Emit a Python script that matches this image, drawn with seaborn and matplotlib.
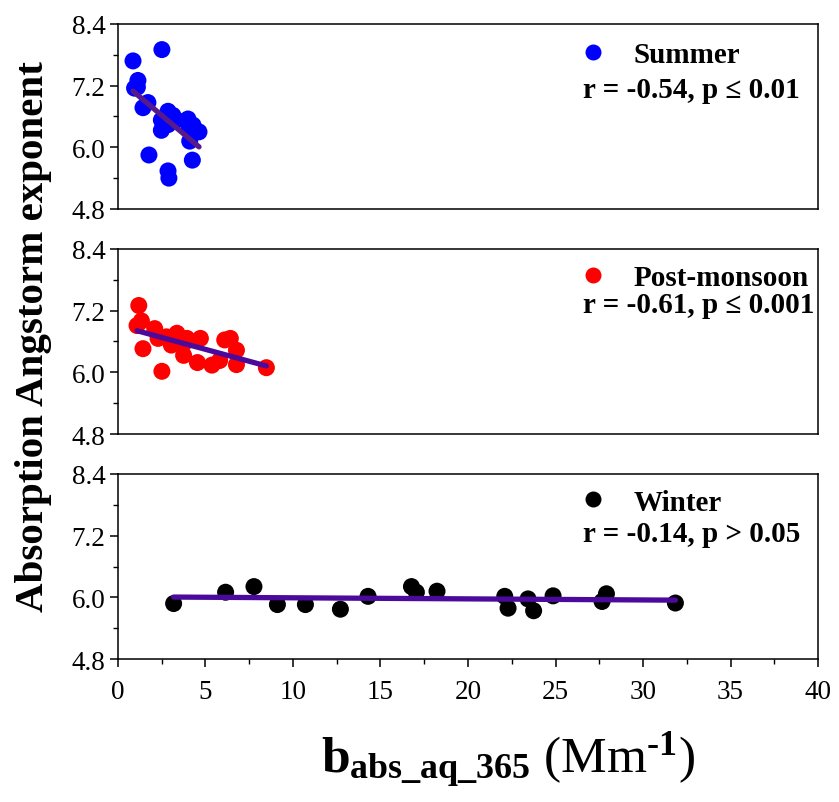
import matplotlib
matplotlib.use("Agg")
import matplotlib.pyplot as plt
import seaborn as sns
import numpy as np
import pandas as pd
from matplotlib.ticker import MultipleLocator
from matplotlib.lines import Line2D

# Seasonal data: aqueous absorption at 365 nm vs absorption Angstrom exponent
summer_x = [0.86, 2.51, 1.14, 1.11, 0.95, 1.71, 1.43, 2.86, 3.14, 2.48, 2.48,
            2.86, 3.34, 4.00, 4.06, 4.10, 4.63, 4.29, 1.77, 4.25, 2.86, 2.91]
summer_y = [7.68, 7.90, 7.30, 7.17, 7.15, 6.87, 6.77, 6.70, 6.62, 6.53, 6.33,
            6.44, 6.53, 6.55, 6.36, 6.12, 6.30, 6.43, 5.85, 5.75, 5.54, 5.40]

post_x = [1.19, 1.34, 1.09, 1.43, 2.10, 2.29, 2.77, 3.05, 3.37, 3.94, 3.75,
          4.71, 4.54, 2.51, 5.37, 5.81, 6.10, 6.42, 6.77, 6.77, 8.48, 3.75]
post_y = [7.30, 7.00, 6.91, 6.46, 6.85, 6.66, 6.69, 6.53, 6.76, 6.66, 6.33,
          6.66, 6.19, 6.02, 6.14, 6.23, 6.63, 6.66, 6.43, 6.15, 6.09, 6.56]

winter_x = [3.18, 6.15, 7.77, 9.11, 10.71, 12.71, 14.29, 16.77, 17.05, 18.23,
            22.10, 22.29, 23.43, 23.75, 24.86, 27.91, 27.66, 31.85]
winter_y = [5.88, 6.10, 6.21, 5.86, 5.86, 5.77, 6.02, 6.21, 6.10, 6.12,
            6.02, 5.79, 5.97, 5.74, 6.03, 6.07, 5.92, 5.89]

season_names = ["Summer", "Post-monsoon", "Winter"]
season_colors = ["#0000ff", "#ff0000", "#000000"]
stat_texts = ["r = -0.54, p \u2264 0.01", "r = -0.61, p \u2264 0.001", "r = -0.14, p > 0.05"]
y_ticks = [4.8, 6.0, 7.2, 8.4]
x_ticks = [0, 5, 10, 15, 20, 25, 30, 35, 40]

sns.set_theme(style="ticks")
plt.rcParams["font.family"] = ["Liberation Serif", "DejaVu Serif"]
plt.rcParams["text.color"] = "black"
plt.rcParams["axes.labelcolor"] = "black"
plt.rcParams["xtick.color"] = "black"
plt.rcParams["ytick.color"] = "black"
plt.rcParams["mathtext.fontset"] = "custom"
plt.rcParams["mathtext.rm"] = "Liberation Serif"
plt.rcParams["mathtext.bf"] = "Liberation Serif:bold"
plt.rcParams["mathtext.it"] = "Liberation Serif:italic"

fig, axes = plt.subplots(3, 1, figsize=(8.39, 8.03), dpi=100, sharex=True)
fig.subplots_adjust(left=0.1406, right=0.975, top=0.969, bottom=0.178, hspace=0.216)

frames = [
    pd.DataFrame({"x": summer_x, "y": summer_y}),
    pd.DataFrame({"x": post_x, "y": post_y}),
    pd.DataFrame({"x": winter_x, "y": winter_y}),
]
line_colors = ["#561a8c", "#4b0a9c", "#4b0a9c"]
legend_y = [0.835, 0.843, 0.848]
stat_y = [0.606, 0.658, 0.638]

for i, (ax, df) in enumerate(zip(axes, frames)):
    sns.scatterplot(data=df, x="x", y="y", ax=ax, color=season_colors[i],
                    s=150, edgecolor="none", linewidth=0, zorder=2)
    sns.regplot(data=df, x="x", y="y", ax=ax, scatter=False, ci=None,
                color=line_colors[i], line_kws={"lw": 3.8, "zorder": 3,
                                                "solid_capstyle": "round"})
    ax.set_xlim(0, 40)
    ax.set_ylim(4.8, 8.4)
    ax.set_yticks(y_ticks)
    ax.set_yticklabels([f"{t:.1f}" for t in y_ticks])
    ax.yaxis.set_minor_locator(MultipleLocator(0.6))
    ax.set_xlabel("")
    ax.set_ylabel("")
    for sp in ax.spines.values():
        sp.set_linewidth(1.1)
        sp.set_color("black")
    ax.tick_params(axis="y", which="major", direction="out", length=6, width=1.1,
                   labelsize=19.5, colors="black", pad=3)
    ax.tick_params(axis="y", which="minor", direction="out", length=3.5, width=1.0)
    if i < 2:
        ax.tick_params(axis="x", which="both", bottom=False, labelbottom=False)
    else:
        ax.set_xticks(x_ticks)
        ax.xaxis.set_minor_locator(MultipleLocator(2.5))
        ax.tick_params(axis="x", which="major", direction="out", length=6, width=1.1,
                       labelsize=19.5, colors="black", pad=8)
        ax.tick_params(axis="x", which="minor", direction="out", length=3.5, width=1.0)

    handle = Line2D([], [], linestyle="none", marker="o", markersize=11.5,
                    markerfacecolor=season_colors[i], markeredgecolor="none")
    leg = ax.legend([handle], [season_names[i]], loc="center left",
                    bbox_to_anchor=(0.658, legend_y[i]), frameon=False,
                    prop={"weight": "bold", "size": 21}, handlelength=1.0,
                    handletextpad=0.88, borderpad=0, borderaxespad=0)
    for t in leg.get_texts():
        t.set_color("black")
    ax.text(0.664, stat_y[i], stat_texts[i], transform=ax.transAxes,
            ha="left", va="baseline", fontsize=21, fontweight="bold",
            color="black")

fig.text(0.040, 0.581, "Absorption Angstorm exponent", rotation=90,
         ha="center", va="center", fontsize=29.5, fontweight="bold",
         color="black")
fig.text(0.605, 0.052,
         "$\\mathbf{b_{abs\\_aq\\_365}}$ (Mm$^{\\mathbf{\u20101}}$)",
         ha="center", va="center", fontsize=37, color="black")

fig.savefig("out.png", dpi=100)
